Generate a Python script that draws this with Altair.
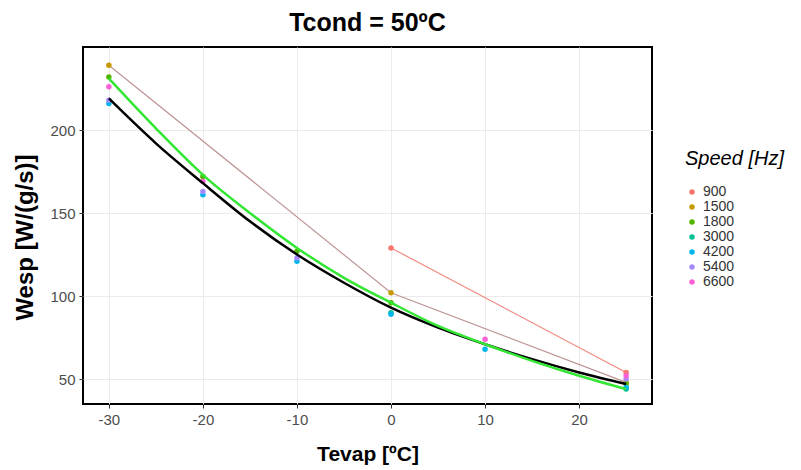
import altair as alt
import pandas as pd

speeds = ["900", "1500", "1800", "3000", "4200", "5400", "6600"]
speed_colors = ["#F8766D", "#C49A00", "#53B400", "#00C094", "#00B6EB", "#A58AFF", "#FB61D7"]

pt_tevap = {
    "900": [0, 25],
    "1500": [-30, 0, 25],
    "1800": [-30, -20, -10, 0, 25],
    "3000": [0, 25],
    "4200": [-30, -20, -10, 0, 10, 25],
    "5400": [-30, -20, -10, 25],
    "6600": [-30, -20, 10, 25],
}
pt_wesp = {
    "900": [129, 54],
    "1500": [239, 102, 48],
    "1800": [232, 172, 127, 96, 47],
    "3000": [90, 44],
    "4200": [216, 161, 121, 89, 68, 45],
    "5400": [218, 163, 123, 50],
    "6600": [226, 169, 74, 52],
}

line900_tevap = [0, 25]
line900_wesp = [129, 54]
line1500_tevap = [-30, 0, 25]
line1500_wesp = [239, 102, 48]

fit_tevap = [-30, -25, -20, -15, -10, -5, 0, 5, 10, 15, 20, 25]
black_fit = [219, 192, 168, 145, 125, 108, 93, 81, 71, 62, 54, 47]
green_fit = [231, 201, 173, 150, 129, 111, 96, 82, 71, 61, 52, 44]

rows = []
for s in speeds:
    for t, w in zip(pt_tevap[s], pt_wesp[s]):
        rows.append({"tevap": t, "wesp": w, "speed": s})
pts = pd.DataFrame(rows)

l900 = pd.DataFrame({"tevap": line900_tevap, "wesp": line900_wesp})
l1500 = pd.DataFrame({"tevap": line1500_tevap, "wesp": line1500_wesp})
fit_b = pd.DataFrame({"tevap": fit_tevap, "wesp": black_fit})
fit_g = pd.DataFrame({"tevap": fit_tevap, "wesp": green_fit})

xs = alt.Scale(domain=[-32.75, 27.75], nice=False, zero=False)
ys = alt.Scale(domain=[35, 250], nice=False, zero=False)
xax = alt.Axis(values=[-30, -20, -10, 0, 10, 20], title="Tevap [ºC]", titlePadding=16,
               labelExpr="'' + datum.value")
yax = alt.Axis(values=[50, 100, 150, 200], title="Wesp [W/(g/s)]", titlePadding=12, titleY=190)

X = alt.X("tevap:Q", scale=xs, axis=xax)
Y = alt.Y("wesp:Q", scale=ys, axis=yax)

line900 = alt.Chart(l900).mark_line(color="#F08A80", strokeWidth=1.2).encode(x=X, y=Y)
line1500 = alt.Chart(l1500).mark_line(color="#BF9595", strokeWidth=1.2).encode(x=X, y=Y)

points = alt.Chart(pts).mark_circle(size=30, opacity=1).encode(
    x=X, y=Y,
    color=alt.Color("speed:N", scale=alt.Scale(domain=speeds, range=speed_colors),
                    sort=speeds,
                    legend=alt.Legend(title="Speed [Hz]", orient="none", legendX=602, legendY=102)),
)

blk = alt.Chart(fit_b).mark_line(color="black", strokeWidth=2.5, interpolate="monotone").encode(x=X, y=Y)
grn = alt.Chart(fit_g).mark_line(color="#33E633", strokeWidth=2.5, interpolate="monotone").encode(x=X, y=Y)

chart = alt.layer(line900, line1500, points, blk, grn).properties(
    width=569, height=357,
    title=alt.Title("Tcond = 50ºC", fontSize=25, fontWeight="bold", anchor="middle", offset=11,
                    font="Liberation Sans", color="black"),
    autosize=alt.AutoSizeParams(type="none"),
    padding={"left": 75, "top": 39, "right": 141, "bottom": 62},
).configure_view(
    stroke="black", strokeWidth=2
).configure_axis(
    grid=True, gridColor="#EBEBEB", gridWidth=1,
    domain=False, tickColor="#333333", tickSize=4, tickWidth=1,
    labelColor="#4D4D4D", labelFontSize=15, labelFont="Liberation Sans", labelPadding=4,
    titleFont="Liberation Sans", titleFontSize=21, titleFontWeight="bold", titleColor="black",
).configure_axisY(
    titleFontSize=24
).configure_legend(
    titleFont="Liberation Sans", titleFontSize=20, titleFontStyle="italic", titleFontWeight="normal",
    titleColor="black", labelFont="Liberation Sans", labelFontSize=14, labelColor="#333333",
    symbolType="circle", symbolSize=30, symbolStrokeWidth=0, rowPadding=1, titlePadding=16,
)

chart.save("out.html", embed_options={"renderer": "svg", "actions": False})
